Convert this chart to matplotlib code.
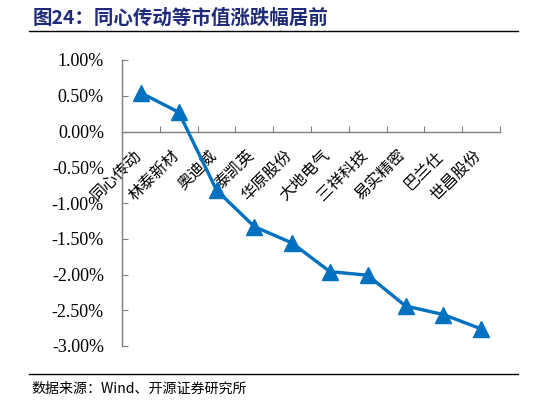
import matplotlib
matplotlib.use("Agg")
import matplotlib.pyplot as plt

plt.rcParams['font.family'] = ['Liberation Serif', 'Noto Sans CJK SC']

categories = ["同心传动", "林泰新材", "奥迪威", "泰凯英", "华原股份",
              "大地电气", "三祥科技", "易实精密", "巴兰仕", "世昌股份"]
values = [0.54, 0.27, -0.82, -1.33, -1.56, -1.96, -2.01, -2.44, -2.56, -2.76]
yticks = [1.0, 0.5, 0.0, -0.5, -1.0, -1.5, -2.0, -2.5, -3.0]
ytick_labels = ["1.00%", "0.50%", "0.00%", "-0.50%", "-1.00%", "-1.50%",
                "-2.00%", "-2.50%", "-3.00%"]

title = "图24：同心传动等市值涨跌幅居前"
source = "数据来源：Wind、开源证券研究所"

fig = plt.figure(figsize=(5.46, 4.05), dpi=100)
ax = fig.add_axes([122/546, 1-346/405, 378/546, 286/405])

x = list(range(len(categories)))
ax.plot(x, values, color="#0070C0", lw=2.4, marker="^", markersize=12,
        markeredgecolor="#0070C0", markerfacecolor="#0070C0", zorder=3,
        clip_on=False)

ax.set_xlim(-0.5, len(categories) - 0.5)
ax.set_ylim(-3.0, 1.0)
ax.set_yticks(yticks)
ax.set_yticklabels(ytick_labels, fontfamily="Liberation Serif", fontsize=13)

for s in ["top", "right"]:
    ax.spines[s].set_visible(False)
ax.spines["bottom"].set_position(("data", 0))
for s in ["left", "bottom"]:
    ax.spines[s].set_color("#7f7f7f")
    ax.spines[s].set_linewidth(1.0)

# x ticks at category boundaries, labels near centers (slightly shifted left)
label_shift = 0.22
ax.set_xticks([i + 0.5 for i in x])
ax.set_xticklabels([])
ax.set_xticks([i - label_shift for i in x], minor=True)
ax.set_xticklabels(categories, minor=True, rotation=45, ha="right",
                   va="top", rotation_mode="anchor",
                   fontfamily="Noto Sans CJK SC", fontsize=11.5)
ax.tick_params(axis="x", which="major", direction="in", length=4,
               color="#7f7f7f", pad=2)
ax.tick_params(axis="x", which="minor", length=0, pad=11)
ax.tick_params(axis="y", direction="in", length=4, color="#7f7f7f", pad=13)

fig.text(33/546, 1-18/405, title, fontsize=14, fontweight="bold",
         color="#1F2A7A", va="center", ha="left",
         fontfamily="Noto Sans CJK SC")
fig.add_artist(plt.Line2D([29/546, 518/546], [1-31/405, 1-31/405],
                          color="black", lw=1.0))
fig.add_artist(plt.Line2D([29/546, 518/546], [1-374/405, 1-374/405],
                          color="black", lw=1.0))
fig.text(31/546, 1-389/405, source, fontsize=10.1, color="black",
         va="center", ha="left", fontfamily="Noto Sans CJK SC")

fig.savefig("out.png", dpi=100)
